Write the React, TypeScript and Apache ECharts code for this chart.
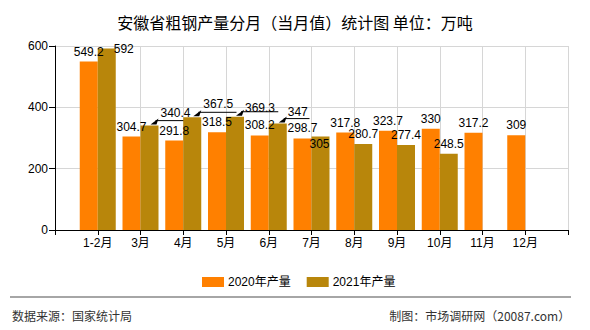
import React, { useEffect, useRef } from "react";
import * as echarts from "echarts";

const months = ["1-2月", "3月", "4月", "5月", "6月", "7月", "8月", "9月", "10月", "11月", "12月"];
const output2020 = [549.2, 304.7, 291.8, 318.5, 308.2, 298.7, 317.8, 323.7, 330, 317.2, 309];
const output2021 = [592, 340.4, 367.5, 369.3, 347, 305, 280.7, 277.4, 248.5];
const seriesNames = ["2020年产量", "2021年产量"];
const yTicks = { min: 0, max: 600, interval: 200 };

// label displacement (style, not data) for the 2021 series, as in the reference
const goldLabelOffsets: number[][] = [[17, 11], [26, -3], [26, -3], [25, 1], [20, -2], [-1, 18], [0, 0], [0, 0], [0, 0]];
const calloutIdx = [1, 2, 3, 4];

const FONT = "'Liberation Sans', 'Noto Sans CJK SC', sans-serif";

export default function App() {
  const ref = useRef<HTMLDivElement>(null);
  useEffect(() => {
    if (!ref.current) return;
    const chart = echarts.init(ref.current, null, { renderer: "svg" });
    const axisCats = ["", ...months, ""];
    const d2020 = [null, ...output2020, null];
    const d2021: any[] = [null, ...output2021.map((v, i) => ({ value: v, label: { offset: goldLabelOffsets[i] } }))];
    while (d2021.length < axisCats.length) d2021.push(null);
    const labelStyle = { show: true, position: "top", color: "#000", fontSize: 12, fontFamily: FONT, distance: 4 };
    chart.setOption({
      animation: false,
      textStyle: { fontFamily: FONT },
      title: {
        text: "安徽省粗钢产量分月（当月值）统计图 单位：万吨",
        left: "center",
        top: 9,
        textStyle: { fontSize: 16, fontWeight: "normal", color: "#000", fontFamily: "'Noto Sans CJK SC', sans-serif" },
      },
      grid: { left: 55, right: 22, top: 46, bottom: 100 },
      legend: {
        left: 197,
        top: 271,
        itemWidth: 22,
        itemHeight: 10,
        itemGap: 16,
        icon: "rect",
        textStyle: { fontSize: 12, color: "#000", padding: [0, 0, 0, -1] },
        data: seriesNames,
      },
      xAxis: {
        type: "category",
        data: axisCats,
        boundaryGap: false,
        axisLine: { lineStyle: { color: "#000" } },
        axisTick: { show: true, length: 5, lineStyle: { color: "#000" } },
        splitLine: { show: true, lineStyle: { color: "#d6d6d6" } },
        axisLabel: { color: "#000", fontSize: 12, margin: 7, interval: 0 },
      },
      yAxis: {
        type: "value",
        min: yTicks.min,
        max: yTicks.max,
        interval: yTicks.interval,
        axisLine: { show: true, lineStyle: { color: "#000" } },
        axisTick: { show: true, length: 6, lineStyle: { color: "#000" } },
        splitLine: { show: true, lineStyle: { color: "#d6d6d6" } },
        axisLabel: { color: "#000", fontSize: 12, margin: 7 },
      },
      series: [
        { name: seriesNames[0], type: "bar", data: d2020, barWidth: 18, barGap: "0%", itemStyle: { color: "#FF8000" }, label: labelStyle },
        { name: seriesNames[1], type: "bar", data: d2021, barWidth: 18, barGap: "0%", itemStyle: { color: "#B8860B" }, label: labelStyle },
      ],
    });

    const graphic: any[] = [
      { type: "line", shape: { x1: 10, y1: 297, x2: 571, y2: 297 }, style: { stroke: "#888", lineWidth: 1.5 } },
      { type: "text", left: 12, top: 309, style: { text: "数据来源：国家统计局", fontSize: 12, fill: "#333", fontFamily: "'Noto Sans CJK SC', sans-serif" } },
      { type: "text", right: 20, top: 309, style: { text: "制图：市场调研网（20087.com）", fontSize: 12, fill: "#333", fontFamily: "'Noto Sans CJK SC', sans-serif" } },
    ];
    calloutIdx.forEach((i) => {
      const v = output2021[i];
      const p = chart.convertToPixel({ gridIndex: 0 }, [i + 1, v]) as number[];
      const barCx = p[0] + 9;
      const tx = barCx + 1;
      const ty = p[1] - 1;
      const labelCx = barCx + goldLabelOffsets[i][0];
      const halfW = (String(v).length * 6.5) / 2;
      const ly = ty - 4;
      graphic.push({
        type: "polyline",
        shape: { points: [[tx + 5, ly], [labelCx + halfW + 2, ly]] },
        style: { stroke: "#000", lineWidth: 1, fill: null },
      });
      graphic.push({
        type: "polygon",
        shape: { points: [[tx, ty], [tx + 8, ly - 2], [tx + 6, ty]] },
        style: { fill: "#000" },
      });
    });
    chart.setOption({ graphic });
    return () => chart.dispose();
  }, []);
  return <div ref={ref} style={{ position: "fixed", left: 0, top: 0, width: 590, height: 330, background: "#fff" }} />;
}
